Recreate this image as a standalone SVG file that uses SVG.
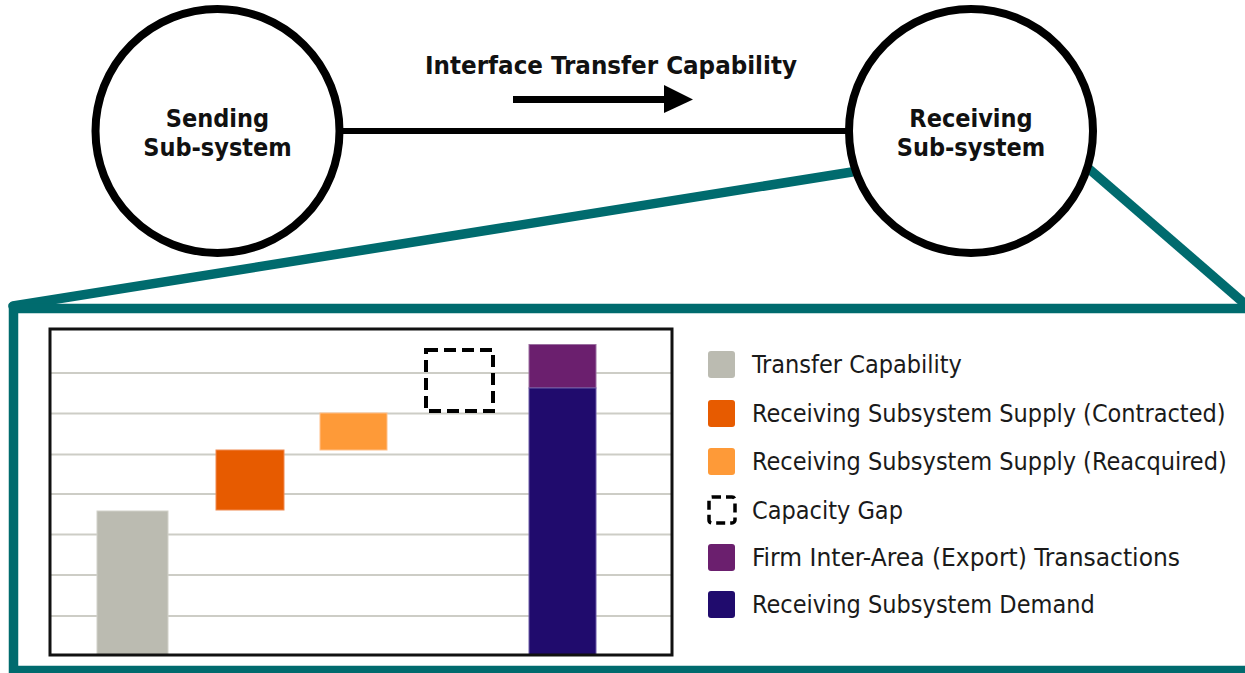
<svg xmlns="http://www.w3.org/2000/svg" width="1245" height="673" viewBox="0 0 1245 673">
<style>
.title{font-family:"DejaVu Sans Condensed","DejaVu Sans",sans-serif;font-stretch:condensed;font-weight:bold;font-size:25px;fill:#111;text-anchor:middle}
.leg{font-family:"DejaVu Sans Condensed","DejaVu Sans",sans-serif;font-stretch:condensed;font-size:25px;fill:#1a1a1a}
.node{fill:#fff;stroke:#000;stroke-width:8}
.teal{fill:none;stroke:#006B6E;stroke-width:9.5}
.grid{stroke:#CDCDC6;stroke-width:2}
</style>
<rect width="1245" height="673" fill="#fff"/>
<g id="zoom-callout">
<line class="teal" x1="13" y1="306" x2="852" y2="172" stroke-linecap="round"/>
<line class="teal" x1="1088" y1="168" x2="1252" y2="310"/>
<rect class="teal" x="13.5" y="308.5" width="1250" height="362"/>
</g>
<g id="connectors">
<line x1="340" y1="131" x2="850" y2="131" stroke="#000" stroke-width="6"/>
<line x1="513" y1="99.5" x2="666" y2="99.5" stroke="#000" stroke-width="7"/>
<polygon points="664,85 693,99.5 664,113" fill="#000"/>
</g>
<text class="title" x="611" y="74" textLength="372" lengthAdjust="spacingAndGlyphs">Interface Transfer Capability</text>
<g id="sending">
<circle class="node" cx="217.5" cy="131" r="122"/>
<text class="title" x="217.5" y="127">Sending</text>
<text class="title" x="217.5" y="156">Sub-system</text>
</g>
<g id="receiving">
<circle class="node" cx="971" cy="131" r="122"/>
<text class="title" x="971" y="127">Receiving</text>
<text class="title" x="971" y="156">Sub-system</text>
</g>
<g id="chart">
<rect x="50" y="329" width="622" height="326" fill="#fff"/>
<g class="grid">
<line x1="51" y1="373" x2="671" y2="373"/>
<line x1="51" y1="413.5" x2="671" y2="413.5"/>
<line x1="51" y1="454.5" x2="671" y2="454.5"/>
<line x1="51" y1="494" x2="671" y2="494"/>
<line x1="51" y1="534.5" x2="671" y2="534.5"/>
<line x1="51" y1="575" x2="671" y2="575"/>
<line x1="51" y1="616" x2="671" y2="616"/>
</g>
<rect x="97" y="511" width="71" height="144" fill="#BBBBB1" stroke="#D2D2CA" stroke-width="1"/>
<rect x="216" y="450" width="68" height="60" fill="#E75B00" stroke="#F08A50" stroke-width="1"/>
<rect x="320" y="413" width="67" height="37" fill="#FE9A38" stroke="#FFC08A" stroke-width="1"/>
<rect x="426" y="350" width="67" height="61" fill="none" stroke="#000" stroke-width="4" stroke-dasharray="12 6"/>
<rect x="529" y="344.5" width="67" height="43.5" fill="#6B1F6E" stroke="#9B6FA0" stroke-width="1"/>
<rect x="529" y="388" width="67" height="267" fill="#200B6D" stroke="#6A5AA8" stroke-width="1"/>
<rect x="50" y="329" width="622" height="326" fill="none" stroke="#111" stroke-width="3"/>
</g>
<g id="legend">
<rect x="708" y="351" width="27" height="27" rx="3" fill="#BBBBB1"/>
<text class="leg" x="752" y="373">Transfer Capability</text>
<rect x="708" y="400" width="27" height="27" rx="3" fill="#E75B00"/>
<text class="leg" x="752" y="422">Receiving Subsystem Supply (Contracted)</text>
<rect x="708" y="448" width="27" height="27" rx="3" fill="#FE9A38"/>
<text class="leg" x="752" y="470">Receiving Subsystem Supply (Reacquired)</text>
<rect x="709" y="497" width="26" height="26" rx="3" fill="none" stroke="#000" stroke-width="3.5" stroke-dasharray="9 5"/>
<text class="leg" x="752" y="519">Capacity Gap</text>
<rect x="708" y="544" width="27" height="27" rx="3" fill="#6B1F6E"/>
<text class="leg" x="752" y="566" textLength="428" lengthAdjust="spacingAndGlyphs">Firm Inter-Area (Export) Transactions</text>
<rect x="708" y="591" width="27" height="27" rx="3" fill="#200B6D"/>
<text class="leg" x="752" y="613">Receiving Subsystem Demand</text>
</g>
</svg>
